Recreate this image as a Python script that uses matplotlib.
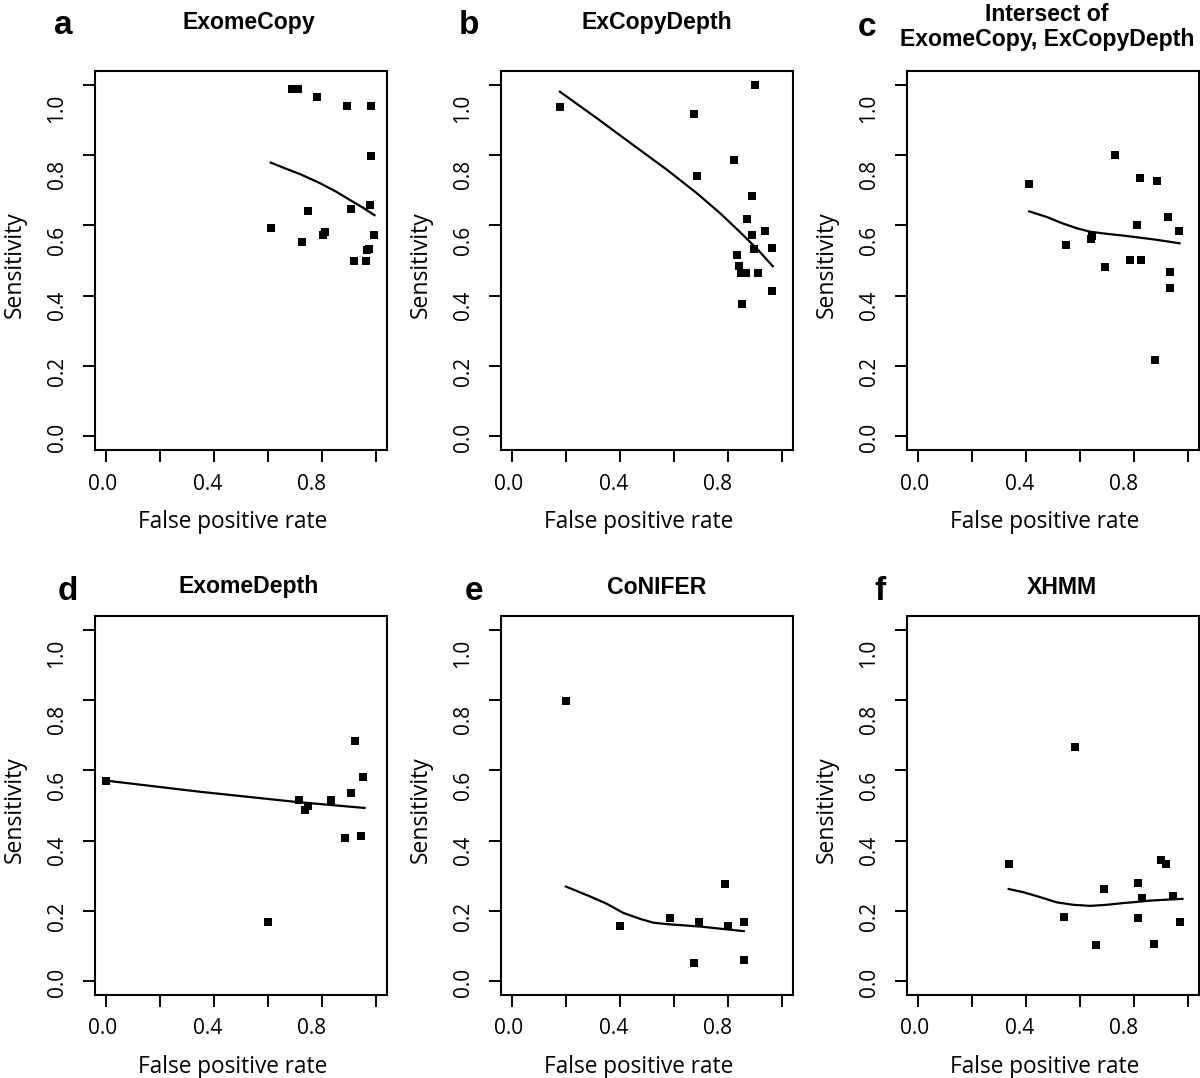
import matplotlib
matplotlib.use("Agg")
import matplotlib.pyplot as plt
import matplotlib.transforms as mtransforms
import numpy as np

# ---------------- data ----------------
titles = ["ExomeCopy", "ExCopyDepth", "Intersect of\nExomeCopy, ExCopyDepth",
          "ExomeDepth", "CoNIFER", "XHMM"]
letters = ["a", "b", "c", "d", "e", "f"]

a_fpr = [0.69, 0.71, 0.781, 0.891, 0.981, 0.981, 0.978, 0.905, 0.749, 0.61,
         0.811, 0.803, 0.993, 0.727, 0.972, 0.965, 0.919, 0.964]
a_sens = [0.989, 0.989, 0.967, 0.941, 0.941, 0.799, 0.659, 0.646, 0.641, 0.594,
          0.580, 0.572, 0.572, 0.552, 0.534, 0.531, 0.500, 0.500]
a_fit_x = [0.61, 0.665, 0.719, 0.793, 0.850, 0.904, 0.950, 0.994]
a_fit_y = [0.779, 0.762, 0.746, 0.720, 0.697, 0.672, 0.651, 0.629]

b_fpr = [0.178, 0.90, 0.672, 0.82, 0.684, 0.888, 0.869, 0.89, 0.938, 0.894,
         0.964, 0.832, 0.84, 0.847, 0.865, 0.91, 0.963, 0.852]
b_sens = [0.938, 1.0, 0.917, 0.786, 0.741, 0.684, 0.617, 0.572, 0.583, 0.533,
          0.536, 0.516, 0.484, 0.463, 0.463, 0.465, 0.413, 0.376]
b_fit_x = [0.178, 0.326, 0.449, 0.573, 0.684, 0.770, 0.844, 0.906, 0.965]
b_fit_y = [0.981, 0.899, 0.829, 0.759, 0.692, 0.635, 0.581, 0.534, 0.484]

c_fpr = [0.412, 0.728, 0.823, 0.886, 0.926, 0.812, 0.967, 0.644, 0.642, 0.549,
         0.691, 0.783, 0.825, 0.933, 0.931, 0.876]
c_sens = [0.719, 0.800, 0.734, 0.727, 0.625, 0.600, 0.584, 0.571, 0.560, 0.544,
          0.482, 0.501, 0.501, 0.467, 0.421, 0.216]
c_fit_x = [0.412, 0.477, 0.538, 0.588, 0.637, 0.699, 0.760, 0.884, 0.968]
c_fit_y = [0.640, 0.624, 0.605, 0.592, 0.582, 0.576, 0.571, 0.559, 0.549]

d_fpr = [0.0, 0.922, 0.953, 0.905, 0.716, 0.833, 0.749, 0.736, 0.884, 0.943, 0.60]
d_sens = [0.571, 0.684, 0.582, 0.536, 0.517, 0.515, 0.499, 0.487, 0.406, 0.412, 0.168]
d_fit_x = [0.0, 0.35, 0.706, 0.957]
d_fit_y = [0.571, 0.539, 0.510, 0.493]

e_fpr = [0.20, 0.40, 0.585, 0.693, 0.80, 0.79, 0.858, 0.674, 0.858]
e_sens = [0.799, 0.158, 0.179, 0.168, 0.157, 0.277, 0.168, 0.051, 0.059]
e_fit_x = [0.20, 0.289, 0.351, 0.412, 0.474, 0.524, 0.573, 0.696, 0.858]
e_fit_y = [0.269, 0.241, 0.220, 0.194, 0.177, 0.166, 0.162, 0.155, 0.142]

f_fpr = [0.58, 0.336, 0.901, 0.917, 0.689, 0.816, 0.83, 0.942, 0.541, 0.815,
         0.969, 0.66, 0.874]
f_sens = [0.667, 0.333, 0.344, 0.333, 0.263, 0.278, 0.236, 0.243, 0.182, 0.179,
          0.167, 0.102, 0.106]
f_fit_x = [0.336, 0.390, 0.452, 0.514, 0.575, 0.637, 0.699, 0.760, 0.822, 0.859, 0.979]
f_fit_y = [0.262, 0.253, 0.239, 0.224, 0.217, 0.214, 0.217, 0.222, 0.226, 0.229, 0.234]

panels = [
    (a_fpr, a_sens, a_fit_x, a_fit_y),
    (b_fpr, b_sens, b_fit_x, b_fit_y),
    (c_fpr, c_sens, c_fit_x, c_fit_y),
    (d_fpr, d_sens, d_fit_x, d_fit_y),
    (e_fpr, e_sens, e_fit_x, e_fit_y),
    (f_fpr, f_sens, f_fit_x, f_fit_y),
]

ticks = [0.0, 0.2, 0.4, 0.6, 0.8, 1.0]
x_tick_labels = {0.0: "0.0", 0.4: "0.4", 0.8: "0.8"}
y_tick_labels = ["0.0", "0.2", "0.4", "0.6", "0.8", "1.0"]

# ---------------- layout ----------------
W, H = 1200, 1078
fig = plt.figure(figsize=(W / 100, H / 100), dpi=100)

LFONT = "Open Sans"
TFONT = "Liberation Sans"

col_left = [95, 501, 907]
row_top = [71, 616]
ax_w, ax_h = 292, 379

title_pos = [(249, 23), (657, 23), (1047, 27), (249, 587), (657, 587), (1062, 587)]
letter_pos = [(63, 26), (469, 25), (867, 28), (68, 592), (474, 592), (880, 592)]

# tick labels in the reference sit on a slightly compressed scale
XLAB_SCALE, XLAB_SHIFT = 0.9667, -0.011
YLAB_SCALE, YLAB_SHIFT = 0.9375, -0.004

for i, (xs, ys, fx, fy) in enumerate(panels):
    r, c = divmod(i, 3)
    L = col_left[c]
    T = row_top[r]
    ax = fig.add_axes([L / W, 1 - (T + ax_h) / H, ax_w / W, ax_h / H])
    ax.plot(xs, ys, linestyle="none", marker="s", markersize=5.5,
            color="black", markeredgewidth=0)
    ax.plot(fx, fy, color="black", linewidth=1.6, solid_joinstyle="round")
    ax.set_xlim(-0.04, 1.04)
    ax.set_ylim(-0.04, 1.04)
    ax.set_xticks(ticks)
    ax.set_yticks(ticks)
    ax.tick_params(axis="both", direction="out", length=8.5, width=1.4,
                   color="black", labelbottom=False, labelleft=False)
    for s in ax.spines.values():
        s.set_linewidth(1.5)

    tx_blend = mtransforms.blended_transform_factory(ax.transData, ax.transAxes)
    ty_blend = mtransforms.blended_transform_factory(ax.transAxes, ax.transData)
    for v, lab in x_tick_labels.items():
        ax.text(XLAB_SHIFT + XLAB_SCALE * v, -34 / ax_h, lab, transform=tx_blend,
                ha="center", va="center", fontsize=15, fontfamily=LFONT)
    for v, lab in zip(ticks, y_tick_labels):
        ax.text(-38 / ax_w, YLAB_SHIFT + YLAB_SCALE * v, lab, transform=ty_blend,
                rotation=90, ha="center", va="center", fontsize=15, fontfamily=LFONT)

    ax.text(-0.274, 0.5 - 4 / ax_h, "Sensitivity", transform=ax.transAxes, rotation=90,
            ha="center", va="center", fontsize=16.5, fontfamily=LFONT)
    ax.text(0.5 - 8 / ax_w, -0.19, "False positive rate", transform=ax.transAxes,
            ha="center", va="center", fontsize=16.3, fontfamily=LFONT)

    tx, ty = title_pos[i]
    fig.text(tx / W, 1 - ty / H, titles[i], ha="center", va="center",
             fontsize=16.6, fontweight="bold", fontfamily=TFONT, linespacing=1.1)
    lx, ly = letter_pos[i]
    fig.text(lx / W, 1 - ly / H, letters[i], ha="center", va="center",
             fontsize=24, fontweight="bold", fontfamily=TFONT)

fig.savefig("out.png", dpi=100)
